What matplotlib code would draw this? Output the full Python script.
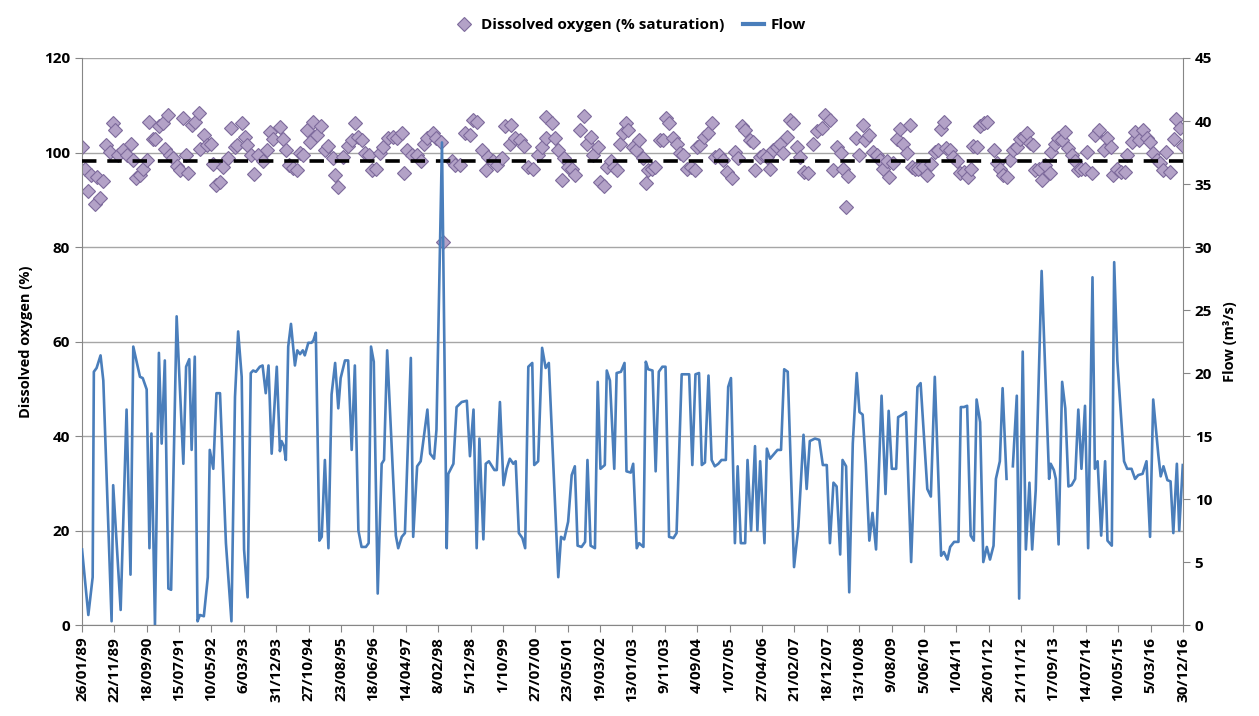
import numpy as np
import pandas as pd
import matplotlib
matplotlib.use("Agg")
import matplotlib.pyplot as plt
from matplotlib.lines import Line2D

plt.rcParams['font.family'] = ['Open Sans', 'DejaVu Sans']
plt.rcParams['font.weight'] = 'bold'

# x axis labels (every 300 days)
tick_labels = ["26/01/89", "22/11/89", "18/09/90", "15/07/91", "10/05/92", "6/03/93",
               "31/12/93", "27/10/94", "23/08/95", "18/06/96", "14/04/97", "8/02/98",
               "5/12/98", "1/10/99", "27/07/00", "23/05/01", "19/03/02", "13/01/03",
               "9/11/03", "4/09/04", "1/07/05", "27/04/06", "21/02/07", "18/12/07",
               "13/10/08", "9/08/09", "5/06/10", "1/04/11", "26/01/12", "21/11/12",
               "17/09/13", "14/07/14", "10/05/15", "5/03/16", "30/12/16"]

# dissolved oxygen samples (decimal year, % saturation)
do_years = [
    1989.07, 1989.14, 1989.23, 1989.29, 1989.40, 1989.44, 1989.52, 1989.61, 1989.69, 1989.78,
    1989.86, 1989.90, 1989.99, 1990.12, 1990.20, 1990.30, 1990.37, 1990.45, 1990.54, 1990.62,
    1990.71, 1990.78, 1990.86, 1990.92, 1991.03, 1991.13, 1991.17, 1991.26, 1991.30, 1991.38,
    1991.47, 1991.55, 1991.62, 1991.71, 1991.76, 1991.85, 1991.93, 1992.04, 1992.06, 1992.16,
    1992.25, 1992.33, 1992.40, 1992.48, 1992.57, 1992.65, 1992.78, 1992.86, 1992.95, 1993.01,
    1993.12, 1993.20, 1993.26, 1993.35, 1993.43, 1993.54, 1993.67, 1993.75, 1993.84, 1993.92,
    1994.09, 1994.16, 1994.24, 1994.33, 1994.43, 1994.53, 1994.60, 1994.68, 1994.77, 1994.85,
    1994.94, 1995.02, 1995.12, 1995.23, 1995.32, 1995.43, 1995.49, 1995.57, 1995.70, 1995.82,
    1995.91, 1995.99, 1996.08, 1996.16, 1996.25, 1996.36, 1996.42, 1996.53, 1996.63, 1996.71,
    1996.84, 1996.95, 1997.05, 1997.18, 1997.24, 1997.32, 1997.43, 1997.56, 1997.66, 1997.74,
    1997.83, 1997.98, 1998.06, 1998.17, 1998.23, 1998.45, 1998.53, 1998.66, 1998.78, 1998.91,
    1998.99, 1999.08, 1999.21, 1999.32, 1999.38, 1999.50, 1999.59, 1999.71, 1999.80, 1999.93,
    1999.94, 2000.05, 2000.18, 2000.28, 2000.39, 2000.52, 2000.64, 2000.73, 2000.84, 2000.85,
    2000.98, 2001.07, 2001.15, 2001.24, 2001.30, 2001.40, 2001.49, 2001.57, 2001.70, 2001.80,
    2001.87, 2001.97, 2002.04, 2002.17, 2002.21, 2002.31, 2002.38, 2002.48, 2002.56, 2002.63,
    2002.72, 2002.78, 2002.87, 2002.93, 2003.04, 2003.12, 2003.21, 2003.29, 2003.37, 2003.43,
    2003.52, 2003.60, 2003.73, 2003.81, 2003.88, 2003.97, 2004.07, 2004.15, 2004.24, 2004.32,
    2004.41, 2004.51, 2004.62, 2004.66, 2004.74, 2004.85, 2004.96, 2005.04, 2005.13, 2005.23,
    2005.34, 2005.42, 2005.55, 2005.63, 2005.72, 2005.80, 2005.89, 2006.01, 2006.10, 2006.14,
    2006.27, 2006.35, 2006.44, 2006.52, 2006.60, 2006.69, 2006.77, 2006.86, 2006.94, 2007.03,
    2007.11, 2007.20, 2007.28, 2007.37, 2007.49, 2007.60, 2007.72, 2007.83, 2007.92, 2008.03,
    2008.13, 2008.21, 2008.31, 2008.38, 2008.45, 2008.51, 2008.70, 2008.79, 2008.87, 2008.93,
    2009.04, 2009.14, 2009.23, 2009.31, 2009.38, 2009.48, 2009.55, 2009.65, 2009.75, 2009.82,
    2009.90, 2009.99, 2010.07, 2010.11, 2010.20, 2010.28, 2010.39, 2010.49, 2010.60, 2010.71,
    2010.79, 2010.85, 2010.93, 2010.98, 2011.09, 2011.17, 2011.27, 2011.34, 2011.44, 2011.53,
    2011.61, 2011.68, 2011.78, 2011.85, 2011.95, 2012.03, 2012.19, 2012.27, 2012.35, 2012.44,
    2012.52, 2012.61, 2012.69, 2012.78, 2012.86, 2012.96, 2013.05, 2013.11, 2013.18, 2013.24,
    2013.35, 2013.41, 2013.50, 2013.61, 2013.66, 2013.75, 2013.83, 2013.92, 2014.00, 2014.09,
    2014.17, 2014.26, 2014.32, 2014.40, 2014.51, 2014.57, 2014.68, 2014.76, 2014.87, 2014.98,
    2015.06, 2015.16, 2015.23, 2015.31, 2015.42, 2015.52, 2015.58, 2015.69, 2015.78, 2015.89,
    2015.99, 2016.07, 2016.16, 2016.24, 2016.33, 2016.41, 2016.50, 2016.56, 2016.67, 2016.77,
    2016.82, 2016.92, 2016.99]
do_sat = [
    101.2, 96.6, 91.9, 95.2, 89.0, 94.9, 90.4, 94.0, 101.5, 100.2,
    106.3, 104.8, 99.5, 100.5, 99.5, 101.7, 98.4, 94.7, 95.2, 96.6,
    98.4, 106.5, 102.9, 102.9, 105.6, 106.2, 100.7, 107.9, 99.5, 98.8,
    97.1, 96.3, 107.4, 99.5, 95.6, 105.8, 106.5, 108.3, 100.7, 103.7,
    101.6, 101.8, 97.6, 93.1, 93.8, 97.0, 98.8, 105.1, 101.1, 101.6,
    106.3, 103.3, 101.6, 99.5, 95.4, 99.5, 98.1, 100.5, 104.4, 102.8,
    105.5, 102.8, 100.5, 97.4, 96.8, 96.3, 99.8, 99.5, 104.8, 102.3,
    106.5, 103.7, 105.6, 100.5, 101.4, 98.8, 95.2, 92.6, 99.1, 101.4,
    102.6, 106.3, 103.3, 102.6, 99.8, 99.5, 96.2, 96.6, 99.8, 101.2,
    103.0, 103.3, 103.0, 104.2, 95.6, 100.5, 99.5, 99.5, 98.3, 101.8,
    103.0, 104.1, 103.0, 102.3, 81.1, 98.1, 97.4, 97.4, 104.1, 103.7,
    106.9, 106.5, 100.5, 96.3, 99.1, 98.1, 97.4, 98.8, 105.6, 101.9,
    105.8, 103.0, 102.6, 101.4, 97.0, 96.6, 99.5, 101.2, 103.0, 107.6,
    106.2, 103.0, 100.5, 94.2, 98.8, 97.0, 96.6, 95.2, 104.8, 107.7,
    101.9, 103.3, 99.5, 101.2, 93.8, 92.9, 97.0, 98.1, 97.0, 96.3,
    101.9, 104.1, 106.2, 104.8, 101.2, 100.5, 102.6, 98.8, 93.6, 96.3,
    96.6, 97.0, 102.6, 102.6, 107.2, 106.3, 103.0, 101.9, 99.8, 99.5,
    96.6, 97.0, 96.3, 101.2, 101.6, 103.3, 104.1, 106.2, 99.1, 99.5,
    98.4, 95.9, 94.5, 100.2, 98.8, 105.6, 104.8, 102.6, 102.3, 96.3,
    99.1, 99.5, 99.1, 96.6, 100.5, 101.2, 101.9, 99.8, 103.3, 106.9,
    106.2, 101.2, 99.1, 95.9, 95.6, 101.9, 104.6, 105.1, 107.9, 106.9,
    96.3, 101.2, 99.8, 96.6, 88.5, 95.0, 103.0, 99.5, 105.8, 102.6,
    103.7, 100.2, 99.5, 98.4, 96.6, 98.1, 94.9, 97.7, 102.8, 104.9,
    101.9, 99.8, 105.8, 97.0, 96.6, 96.6, 97.0, 95.2, 97.6, 100.2,
    100.5, 104.9, 106.5, 100.9, 100.5, 99.1, 98.1, 95.6, 95.9, 94.9,
    96.6, 101.4, 101.2, 105.6, 106.3, 106.5, 100.5, 97.7, 96.6, 95.2,
    94.9, 98.4, 100.5, 101.2, 102.8, 103.3, 104.1, 102.1, 101.6, 96.3,
    96.6, 94.2, 97.4, 95.6, 100.2, 101.9, 103.0, 102.6, 104.4, 100.9,
    99.5, 98.1, 96.3, 96.6, 96.6, 100.2, 95.6, 103.7, 104.8, 100.5,
    103.0, 101.2, 95.2, 96.6, 95.9, 95.9, 99.5, 102.3, 104.4, 102.6,
    104.8, 103.0, 102.3, 99.8, 98.4, 97.7, 96.3, 100.2, 95.9, 102.8,
    107.0, 105.1, 101.4]

# river flow (decimal year, m3/s); nan = missing sample
flow_years = [
    1989.07, 1989.23, 1989.34, 1989.37, 1989.44, 1989.54, 1989.61, 1989.82, 1989.86, 1990.05,
    1990.20, 1990.30, 1990.37, 1990.54, 1990.61, 1990.71, 1990.78, 1990.83, 1990.92, 1991.02,
    1991.09, 1991.17, 1991.26, 1991.33, 1991.47, 1991.64, 1991.71, 1991.79, 1991.85, 1991.93,
    1992.00, 1992.06, 1992.16, 1992.26, 1992.31, 1992.40, 1992.48, 1992.57, 1992.72, 1992.86,
    1992.95, 1993.03, 1993.12, 1993.18, 1993.27, 1993.35, 1993.41, 1993.48, 1993.58, 1993.65,
    1993.73, 1993.80, 1993.88, 1994.01, 1994.09, 1994.13, 1994.19, 1994.24, 1994.30, 1994.37,
    1994.47, 1994.53, 1994.60, 1994.67, 1994.72, 1994.81, 1994.89, 1994.94, 1995.00, 1995.09,
    1995.15, 1995.23, 1995.32, 1995.40, 1995.49, 1995.57, 1995.63, 1995.74, 1995.82, 1995.91,
    1995.99, 1996.08, 1996.16, 1996.27, 1996.34, 1996.40, 1996.47, 1996.57, 1996.67, 1996.73,
    1996.81, 1997.03, 1997.09, 1997.18, 1997.26, 1997.41, 1997.47, 1997.57, 1997.66, 1997.83,
    1997.90, 1998.00, 1998.06, 1998.20, 1998.32, 1998.36, 1998.49, 1998.57, 1998.70, 1998.83,
    1998.91, 1999.00, 1999.08, 1999.15, 1999.25, 1999.31, 1999.39, 1999.53, 1999.59, 1999.67,
    1999.76, 1999.84, 1999.92, 2000.01, 2000.07, 2000.15, 2000.24, 2000.31, 2000.39, 2000.49,
    2000.54, 2000.64, 2000.74, 2000.83, 2000.91, 2001.15, 2001.22, 2001.30, 2001.40, 2001.49,
    2001.57, 2001.64, 2001.74, 2001.83, 2001.89, 2001.97, 2002.08, 2002.15, 2002.22, 2002.33,
    2002.38, 2002.46, 2002.57, 2002.63, 2002.74, 2002.83, 2002.88, 2002.99, 2003.05, 2003.14,
    2003.20, 2003.31, 2003.37, 2003.43, 2003.54, 2003.62, 2003.70, 2003.79, 2003.87, 2003.96,
    2004.07, 2004.15, 2004.28, 2004.36, 2004.47, 2004.55, 2004.63, 2004.72, 2004.79, 2004.87,
    2004.96, 2005.04, 2005.12, 2005.21, 2005.29, 2005.40, 2005.46, 2005.53, 2005.63, 2005.70,
    2005.78, 2005.89, 2005.95, 2006.04, 2006.14, 2006.20, 2006.27, 2006.38, 2006.44, 2006.52,
    2006.63, 2006.71, 2006.80, 2006.88, 2006.97, 2007.13, 2007.24, 2007.37, 2007.45, 2007.53,
    2007.66, 2007.77, 2007.86, 2007.96, 2008.04, 2008.13, 2008.21, 2008.30, 2008.36, 2008.45,
    2008.53, 2008.62, 2008.72, 2008.79, 2008.87, 2008.95, 2009.04, 2009.12, 2009.21, 2009.35,
    2009.45, 2009.53, 2009.61, 2009.72, 2009.77, 2009.88, 2009.97, 2010.10, 2010.26, 2010.34,
    2010.51, 2010.60, 2010.70, 2010.86, 2010.93, 2011.02, 2011.09, 2011.19, 2011.30, 2011.36,
    2011.44, 2011.52, 2011.61, 2011.69, 2011.76, 2011.85, 2011.93, 2012.02, 2012.10, 2012.19,
    2012.25, 2012.35, 2012.42, 2012.52, 2012.60, 2012.68, 2012.78, 2012.84, 2012.93, 2013.01,
    2013.10, 2013.17, 2013.26, 2013.41, 2013.60, 2013.64, 2013.72, 2013.77, 2013.84, 2013.93,
    2014.01, 2014.09, 2014.17, 2014.26, 2014.34, 2014.42, 2014.51, 2014.59, 2014.70, 2014.76,
    2014.83, 2014.92, 2015.02, 2015.08, 2015.19, 2015.25, 2015.33, 2015.50, 2015.58, 2015.69,
    2015.78, 2015.86, 2015.97, 2016.07, 2016.16, 2016.24, 2016.37, 2016.43, 2016.50, 2016.60,
    2016.68, 2016.75, 2016.84, 2016.90, 2016.99]
flow_m3s = [
    6.0, 0.8, 3.8, 20.1, 20.4, 21.4, 19.4, 0.3, 11.1, 1.2,
    17.1, 4.0, 22.1, 19.7, 19.6, 18.7, 6.1, 15.2, 0.0, 21.6,
    14.4, 21.0, 2.9, 2.8, 24.5, 12.8, 20.5, 21.1, 13.9, 21.3,
    0.3, 0.8, 0.7, 3.8, 13.9, 12.4, 18.4, 18.4, 6.5, 0.3,
    18.1, 23.3, 19.7, 6.0, 2.2, 20.0, 20.2, 20.1, 20.5, 20.6,
    18.4, 20.6, 13.6, 20.5, 13.8, 14.6, 14.2, 13.1, 22.1, 23.9,
    20.6, 21.8, 21.5, 21.8, 21.4, 22.4, 22.4, 22.6, 23.2, 6.7,
    7.0, 13.1, 6.1, 18.3, 20.8, 17.2, 19.6, 21.0, 21.0, 13.9,
    20.6, 7.5, 6.2, 6.2, 6.5, 22.1, 20.9, 2.5, 12.8, 13.1,
    21.8, 7.1, 6.1, 7.0, 7.3, 21.2, 7.0, 12.6, 13.0, 17.1,
    13.6, 13.2, 15.5, 38.3, 6.1, 12.0, 12.8, 17.3, 17.7, 17.8,
    13.4, 17.1, 6.1, 14.8, 6.8, 12.8, 13.0, 12.3, 12.3, 17.7,
    11.1, 12.4, 13.2, 12.8, 13.0, 7.3, 6.9, 6.1, 20.5, 20.8,
    12.7, 13.0, 22.0, 20.4, 20.8, 3.8, 7.0, 6.8, 8.2, 11.9,
    12.6, 6.3, 6.2, 6.6, 13.1, 6.3, 6.1, 19.3, 12.4, 12.7,
    20.2, 19.4, 12.4, 20.0, 20.1, 20.8, 12.2, 12.1, 12.8, 6.1,
    6.5, 6.2, 20.9, 20.3, 20.2, 12.2, 20.1, 20.5, 20.5, 7.0,
    6.9, 7.3, 19.9, 19.9, 19.9, 12.7, 19.9, 20.0, 12.7, 12.9,
    19.8, 13.1, 12.6, 12.8, 13.1, 13.1, 18.9, 19.6, 6.5, 12.6,
    6.5, 6.5, 13.1, 7.5, 14.2, 7.5, 13.0, 6.5, 14.0, 13.2,
    13.6, 13.9, 13.9, 20.3, 20.1, 4.6, 7.8, 15.1, 10.8, 14.6,
    14.8, 14.7, 12.7, 12.7, 6.5, 11.3, 11.0, 5.6, 13.1, 12.6,
    2.6, 14.4, 20.0, 16.9, 16.7, 12.8, 6.7, 8.9, 6.0, 18.2,
    10.4, 17.0, 12.4, 12.4, 16.5, 16.7, 16.9, 5.0, 18.9, 19.2,
    10.8, 10.2, 19.7, 5.5, 5.8, 5.2, 6.2, 6.6, 6.6, 17.3,
    17.3, 17.4, 7.1, 6.7, 17.9, 16.1, 5.0, 6.2, 5.2, 6.3,
    11.6, 13.0, 18.8, 11.6, np.nan, 12.6, 18.2, 2.1, 21.7, 6.0,
    11.3, 6.0, 10.7, 28.1, 11.6, 12.8, 12.3, 11.6, 6.4, 19.3,
    17.2, 11.0, 11.1, 11.6, 17.1, 12.4, 17.4, 6.1, 27.6, 12.4,
    13.0, 7.1, 13.0, 6.7, 6.3, 28.8, 21.0, 13.0, 12.4, 12.4,
    11.6, 11.9, 12.0, 13.0, 7.0, 17.9, 13.5, 11.8, 12.6, 11.5,
    11.4, 7.3, 12.8, 7.5, 12.7]

do_mean = 98.3


def to_dates(yrs):
    yrs = np.asarray(yrs, dtype=float)
    return pd.Timestamp("1989-01-01") + pd.to_timedelta((yrs - 1989.0) * 365.25, unit="D")


tick_dates = pd.to_datetime(tick_labels, format="%d/%m/%y")

fig = plt.figure(figsize=(12.59, 7.16), dpi=100)
ax = fig.add_axes([0.0651, 0.127, 0.8745, 0.792])
ax2 = ax.twinx()

grey = "#868686"
purple_fill = "#b3a2c7"
purple_edge = "#7d6a9c"
blue = "#4a7ebb"

ax.plot(to_dates(do_years), do_sat, linestyle="none", marker="D", ms=7.5,
        mfc=purple_fill, mec=purple_edge, mew=0.8, zorder=2)
ax.axhline(do_mean, color="black", lw=2.6, dashes=(4, 3), zorder=3)
ax2.plot(to_dates(flow_years), flow_m3s, color=blue, lw=1.9)

ax.set_xlim(tick_dates[0], tick_dates[-1])
ax.set_xticks(tick_dates)
ax.set_xticklabels(tick_labels, rotation=90)

ax.set_ylim(0, 120)
ax.set_yticks(np.arange(0, 121, 20))
ax2.set_ylim(0, 45)
ax2.set_yticks(np.arange(0, 46, 5))

ax.yaxis.grid(True, color="#a6a6a6", lw=1)
ax.set_axisbelow(True)

for a in (ax, ax2):
    a.spines["top"].set_visible(False)
    a.tick_params(axis="both", direction="out", length=5, color=grey, labelsize=11)
ax.spines["right"].set_visible(False)
ax.spines["left"].set_color(grey)
ax.spines["bottom"].set_color(grey)
ax2.spines["left"].set_visible(False)
ax2.spines["bottom"].set_visible(False)
ax2.spines["right"].set_color(grey)

ax.set_ylabel("Dissolved oxygen (%)", fontsize=10.5, fontweight="bold", labelpad=8)
ax2.set_ylabel("Flow (m³/s)", fontsize=10.5, fontweight="bold", labelpad=8)

handles = [Line2D([], [], linestyle="none", marker="D", ms=7.5, mfc=purple_fill,
                  mec=purple_edge, mew=0.8),
           Line2D([], [], color=blue, lw=3)]
fig.legend(handles, ["Dissolved oxygen (% saturation)", "Flow"], loc="center",
           bbox_to_anchor=(0.5, 0.965), ncol=2, frameon=False, fontsize=11,
           handlelength=1.4, columnspacing=1.2, handletextpad=0.4)

fig.savefig("out.png", dpi=100)
